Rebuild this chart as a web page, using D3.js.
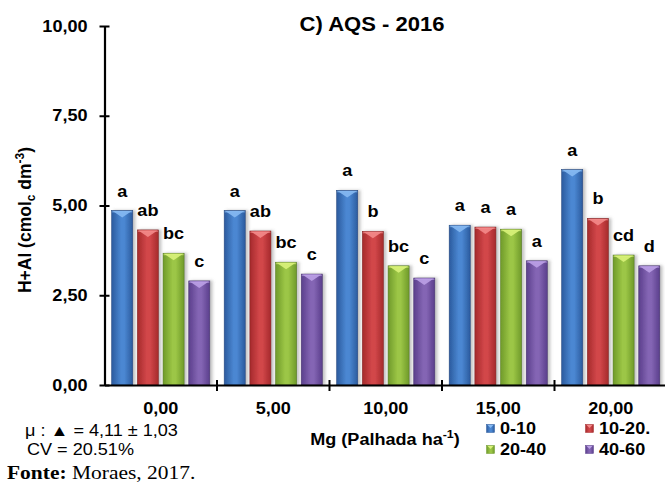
<!DOCTYPE html>
<html>
<head>
<meta charset="utf-8">
<script src="https://cdn.jsdelivr.net/npm/d3@7"></script>
<style>
html,body{margin:0;padding:0;background:#fff;}
svg{display:block;}
</style>
</head>
<body>
<svg id="chart" width="665" height="484"></svg>
<script>
// ---- data ----
const categories = ["0,00", "5,00", "10,00", "15,00", "20,00"];
const seriesNames = ["0-10", "10-20.", "20-40", "40-60"];
const s0_10  = [4.86, 4.86, 5.42, 4.45, 6.00];
const s10_20 = [4.32, 4.29, 4.28, 4.40, 4.64];
const s20_40 = [3.67, 3.42, 3.32, 4.34, 3.62];
const s40_60 = [2.90, 3.09, 2.98, 3.46, 3.32];
const l0_10  = ["a", "a", "a", "a", "a"];
const l10_20 = ["ab", "ab", "b", "a", "b"];
const l20_40 = ["bc", "bc", "bc", "a", "cd"];
const l40_60 = ["c", "c", "c", "a", "d"];
const yTicks = [0, 2.5, 5, 7.5, 10];
const titleText = "C) AQS - 2016";
const statLine1 = "\u03BC : \u25B2 = 4,11 \u00B1 1,03";
const statLine2 = "CV = 20.51%";

const seriesValues = [s0_10, s10_20, s20_40, s40_60];
const seriesLetters = [l0_10, l10_20, l20_40, l40_60];

// ---- style ----
const SX = 1.13;
const palette = [
  {edge:"#2b5b9e", mid:"#4b87d2", top:"#86b9f2"},
  {edge:"#a52a2c", mid:"#d2474a", top:"#f38a8a"},
  {edge:"#6f9a2a", mid:"#9cc646", top:"#d9f27a"},
  {edge:"#5b3f8c", mid:"#8465b4", top:"#bba0e6"}
];

const svg = d3.select("#chart");
svg.append("rect").attr("width",665).attr("height",484).attr("fill","#fff");
const defs = svg.append("defs");
palette.forEach((p,i)=>{
  const g = defs.append("linearGradient").attr("id","grad"+i).attr("x1","0").attr("x2","1").attr("y1","0").attr("y2","0");
  g.append("stop").attr("offset","0").attr("stop-color",p.edge);
  g.append("stop").attr("offset","0.45").attr("stop-color",p.mid);
  g.append("stop").attr("offset","0.6").attr("stop-color",p.mid);
  g.append("stop").attr("offset","1").attr("stop-color",p.edge);
});
const f = defs.append("filter").attr("id","shadow").attr("x","-20%").attr("y","-5%").attr("width","150%").attr("height","110%");
f.append("feDropShadow").attr("dx",2.5).attr("dy",0).attr("stdDeviation",1.5).attr("flood-color","#777").attr("flood-opacity",0.45);

const mLeft = 104.5, mRight = 667, mTop = 26, mBottom = 385;
const x0 = d3.scaleBand().domain(categories).range([mLeft, mRight]).paddingInner(0).paddingOuter(0);
const x1 = d3.scaleBand().domain(d3.range(seriesNames.length)).range([0, x0.bandwidth()]).paddingInner(0.18).paddingOuter(0.28);
const y = d3.scaleLinear().domain([0, 10]).range([mBottom, mTop]);

function stext(parent, x, yy, anchor, weight, size, family){
  return parent.append("text")
    .attr("transform", `translate(${x},${yy}) scale(${SX},1)`)
    .attr("text-anchor", anchor)
    .attr("font-family", family || "Liberation Sans, Arial, sans-serif")
    .attr("font-weight", weight)
    .attr("font-size", size)
    .attr("fill", "#000");
}

// ---- bars ----
const groups = svg.append("g").selectAll("g").data(categories).join("g")
  .attr("transform", d => `translate(${x0(d)},0)`);

groups.each(function(cat, ci){
  const g = d3.select(this);
  seriesNames.forEach((s, si) => {
    const v = seriesValues[si][ci];
    const bx = x1(si), bw = x1.bandwidth();
    const by = y(v), bh = y(0) - y(v);
    g.append("rect").attr("x", bx).attr("y", by).attr("width", bw).attr("height", bh)
      .attr("fill", `url(#grad${si})`).attr("filter","url(#shadow)")
      .attr("stroke", d3.color(palette[si].edge).darker(0.6)).attr("stroke-width", 0.6);
    g.append("path")
      .attr("d", `M${bx+1},${by+0.5} L${bx+bw-1},${by+0.5} L${bx+bw/2},${by+7} Z`)
      .attr("fill", palette[si].top).attr("opacity", 0.9);
    g.append("rect").attr("x", bx+0.5).attr("y", by+0.5).attr("width", bw-1).attr("height", 1.5)
      .attr("fill", palette[si].top).attr("opacity", 0.6);
    stext(g, bx + bw/2, by - 14, "middle", "bold", 16).text(seriesLetters[si][ci]);
  });
});

// ---- y axis ----
const yAxis = d3.axisLeft(y).tickValues(yTicks)
  .tickFormat(d => d3.format(".2f")(d).replace(".", ","))
  .tickSizeInner(0).tickSizeOuter(0).tickPadding(15);
const ya = svg.append("g").attr("transform", `translate(${mLeft},0)`).call(yAxis);
ya.select(".domain").attr("stroke","#000").attr("stroke-width",2.2);
ya.selectAll(".tick line").attr("x1",-5).attr("x2",5).attr("stroke","#000").attr("stroke-width",2);
ya.selectAll(".tick text")
  .attr("font-family","Liberation Sans, Arial, sans-serif").attr("font-weight","bold").attr("font-size",16)
  .attr("fill","#000").attr("transform", `scale(${SX},1)`);

// ---- x axis ----
const xAxis = d3.axisBottom(x0).tickSizeInner(0).tickSizeOuter(0).tickPadding(18);
const xa = svg.append("g").attr("transform", `translate(0,${mBottom})`).call(xAxis);
xa.select(".domain").attr("stroke","#000").attr("stroke-width",2.2);
xa.selectAll(".tick text")
  .attr("font-family","Liberation Sans, Arial, sans-serif").attr("font-weight","bold").attr("font-size",16)
  .attr("fill","#000").attr("transform", `scale(${SX},1)`);
xa.selectAll(".sep").data(categories.slice(1)).join("line").attr("class","sep")
  .attr("x1", d => x0(d)).attr("x2", d => x0(d)).attr("y1",-5).attr("y2",6)
  .attr("stroke","#000").attr("stroke-width",2);

// ---- title ----
stext(svg, 372, 31, "middle", "bold", 19.5).text(titleText);

// ---- y label ----
const yl = svg.append("text")
  .attr("transform","translate(31,220) rotate(-90)")
  .attr("text-anchor","middle")
  .attr("font-family","Liberation Sans, Arial, sans-serif").attr("font-weight","bold").attr("font-size",17.5);
yl.append("tspan").text("H+Al (cmol");
yl.append("tspan").attr("font-size",12).attr("dy",4).text("c");
yl.append("tspan").attr("dy",-4).text(" dm");
yl.append("tspan").attr("font-size",12).attr("dy",-7).text("-3");
yl.append("tspan").attr("dy",7).text(")");

// ---- x label ----
const xl = stext(svg, 385, 445, "middle", "bold", 16);
xl.append("tspan").text("Mg (Palhada ha");
xl.append("tspan").attr("font-size",11).attr("dy",-7).text("-1");
xl.append("tspan").attr("dy",7).text(")");

// ---- legend ----
const legendPos = [[486.5, 424.5], [585.5, 424.5], [486.5, 445.5], [585.5, 445.5]];
seriesNames.forEach((s, i) => {
  const [lx, ly] = legendPos[i];
  svg.append("rect").attr("x",lx).attr("y",ly).attr("width",8).attr("height",8)
    .attr("fill",`url(#grad${i})`).attr("stroke",palette[i].edge).attr("stroke-width",0.5);
  svg.append("path").attr("d",`M${lx+1},${ly+0.5} L${lx+7},${ly+0.5} L${lx+4},${ly+3.5} Z`).attr("fill",palette[i].top);
  stext(svg, lx + 13.5, ly + 9.5, "start", "bold", 16).text(s);
});

// ---- stats & source ----
stext(svg, 25, 436, "start", "normal", 16).text(statLine1);
stext(svg, 27, 455, "start", "normal", 16).text(statLine2);
const src = stext(svg, 7, 479, "start", "normal", 19, "Liberation Serif, Times New Roman, serif");
src.append("tspan").attr("font-weight","bold").text("Fonte:");
src.append("tspan").text(" Moraes, 2017.");
</script>
</body>
</html>
